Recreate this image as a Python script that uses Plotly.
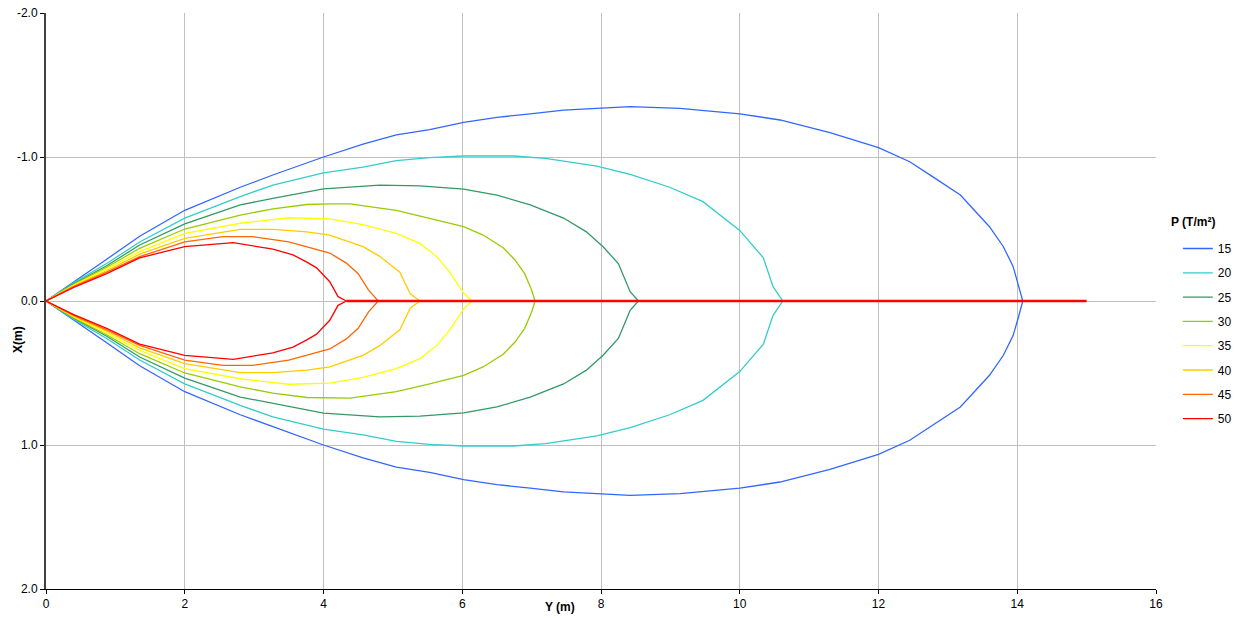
import plotly.graph_objects as go

# Pressure levels (legend)
levels = ["15", "20", "25", "30", "35", "40", "45", "50"]
colors = ["#3366FF", "#33CCCC", "#339966", "#99CC00", "#FFFF00", "#FFCC00", "#FF6600", "#FF0000"]

# Upper-branch distances along Y (m) and half-widths |X| (m)
y15 = [0, 0.4, 0.875, 1.35, 2.0, 2.8, 3.27, 4.0, 4.57, 5.05, 5.53, 6.02, 6.5, 6.98, 7.46, 7.94, 8.42, 9.14, 10.0, 10.58, 11.3, 12.0, 12.45, 12.79, 13.18, 13.6, 13.8, 13.94, 14.01, 14.08]
x15 = [0, 0.13, 0.29, 0.45, 0.63, 0.79, 0.875, 1.0, 1.09, 1.153, 1.19, 1.24, 1.275, 1.30, 1.326, 1.338, 1.35, 1.338, 1.30, 1.257, 1.17, 1.065, 0.967, 0.86, 0.736, 0.516, 0.377, 0.24, 0.125, 0]

y20 = [0, 0.4, 0.875, 1.35, 2.0, 2.8, 3.27, 4.0, 4.57, 5.05, 5.53, 6.02, 6.74, 7.2, 7.94, 8.42, 8.99, 9.47, 10.0, 10.34, 10.48, 10.62]
x20 = [0, 0.127, 0.26, 0.41, 0.576, 0.725, 0.805, 0.89, 0.93, 0.975, 0.995, 1.007, 1.007, 0.99, 0.937, 0.88, 0.79, 0.69, 0.49, 0.30, 0.10, 0]

y25 = [0, 0.4, 0.875, 1.35, 2.0, 2.8, 3.27, 4.0, 4.81, 5.39, 6.02, 6.5, 6.98, 7.46, 7.79, 8.03, 8.25, 8.35, 8.42, 8.54]
x25 = [0, 0.12, 0.245, 0.389, 0.535, 0.667, 0.713, 0.778, 0.805, 0.80, 0.777, 0.736, 0.667, 0.576, 0.48, 0.377, 0.26, 0.146, 0.065, 0]

y30 = [0, 0.4, 0.875, 1.35, 2.0, 2.8, 3.27, 3.76, 4.09, 4.38, 5.05, 5.53, 6.02, 6.3, 6.59, 6.76, 6.9, 7.0, 7.05]
x30 = [0, 0.115, 0.234, 0.366, 0.50, 0.597, 0.639, 0.67, 0.675, 0.675, 0.63, 0.576, 0.516, 0.458, 0.37, 0.285, 0.19, 0.076, 0]

y35 = [0, 0.4, 0.875, 1.35, 2.0, 2.8, 3.5, 4.09, 4.57, 5.05, 5.39, 5.63, 5.82, 6.02, 6.14]
x35 = [0, 0.11, 0.223, 0.343, 0.47, 0.54, 0.578, 0.57, 0.53, 0.47, 0.40, 0.31, 0.20, 0.055, 0]

y40 = [0, 0.4, 0.875, 1.35, 2.0, 2.8, 3.27, 3.76, 4.09, 4.57, 4.81, 5.1, 5.25, 5.39]
x40 = [0, 0.105, 0.21, 0.326, 0.435, 0.497, 0.497, 0.48, 0.458, 0.377, 0.31, 0.20, 0.05, 0]

y45 = [0, 0.4, 0.875, 1.35, 2.0, 2.55, 2.98, 3.5, 4.09, 4.33, 4.5, 4.65, 4.79]
x45 = [0, 0.10, 0.20, 0.308, 0.41, 0.447, 0.447, 0.41, 0.333, 0.263, 0.19, 0.076, 0]

y50 = [0, 0.4, 0.875, 1.35, 2.0, 2.7, 3.27, 3.56, 3.76, 3.9, 4.09, 4.21, 4.33]
x50 = [0, 0.095, 0.19, 0.30, 0.377, 0.405, 0.36, 0.32, 0.27, 0.23, 0.134, 0.03, 0]

# Red axis line of the load
axis_y = [4.33, 15.0]
axis_x = [0, 0]

# Tick labels
xtick_vals = [0, 2, 4, 6, 8, 10, 12, 14, 16]
ytick_vals = [-2, -1, 0, 1, 2]
ytick_text = ["-2.0", "-1.0", "0.0", "1.0", "2.0"]

ys = [y15, y20, y25, y30, y35, y40, y45, y50]
xs = [x15, x20, x25, x30, x35, x40, x45, x50]

FONT = "Liberation Sans, Arial, sans-serif"
PW, PH = 1110, 576  # plot area size in px

fig = go.Figure()
for lev, col, yy, xx in zip(levels, colors, ys, xs):
    # closed contour: upper branch (negative X) then lower branch back (positive X)
    path_y = list(yy) + list(yy[::-1][1:])
    path_x = [-v for v in xx] + list(xx[::-1][1:])
    fig.add_trace(go.Scatter(x=path_y, y=path_x, mode="lines", name=lev,
                             line=dict(color=col, width=1.3), legendgroup=lev))

fig.add_trace(go.Scatter(x=axis_y, y=axis_x, mode="lines", showlegend=False,
                         line=dict(color="#FF0000", width=2.5)))

fig.update_layout(
    width=1246, height=618,
    margin=dict(l=46, r=90, t=13, b=29, autoexpand=False),
    paper_bgcolor="white", plot_bgcolor="white",
    font=dict(family=FONT, size=12, color="black"),
    showlegend=True,
    legend=dict(
        x=1.0197, y=(589 - 234) / PH, xanchor="left", yanchor="top",
        font=dict(size=12, family=FONT),
        traceorder="grouped", tracegroupgap=5.3,
        itemwidth=30, bgcolor="rgba(0,0,0,0)",
    ),
    xaxis=dict(
        range=[0, 16], tickvals=xtick_vals,
        showgrid=True, gridcolor="#C0C0C0", gridwidth=1,
        zeroline=False, automargin=False,
        showline=True, linecolor="black", linewidth=1,
        ticks="outside", ticklen=4, tickcolor="black",
        tickfont=dict(size=12, family=FONT),
    ),
    yaxis=dict(
        range=[2, -2], tickvals=ytick_vals, ticktext=ytick_text,
        showgrid=True, gridcolor="#C0C0C0", gridwidth=1,
        zeroline=False, automargin=False,
        showline=True, linecolor="#404040", linewidth=2,
        ticks="outside", ticklen=4, tickcolor="black",
        tickfont=dict(size=12, family=FONT),
    ),
    annotations=[
        dict(text="<b>Y (m)</b>", xref="paper", yref="paper", x=(560 - 46) / PW, y=-(607 - 589) / PH,
             xanchor="center", yanchor="middle", showarrow=False, font=dict(size=12, family=FONT)),
        dict(text="<b>X(m)</b>", xref="paper", yref="paper", x=-(46 - 18) / PW, y=(589 - 340) / PH,
             xanchor="center", yanchor="middle", textangle=-90, showarrow=False,
             font=dict(size=12, family=FONT)),
        dict(text="<b>P (T/m²)</b>", xref="paper", yref="paper", x=(1169 - 46) / PW, y=(589 - 222) / PH,
             xanchor="left", yanchor="middle", showarrow=False, font=dict(size=12, family=FONT)),
    ],
)

fig.write_html("out.html", config={"displayModeBar": False},
               post_script="document.body.style.margin='0';")
